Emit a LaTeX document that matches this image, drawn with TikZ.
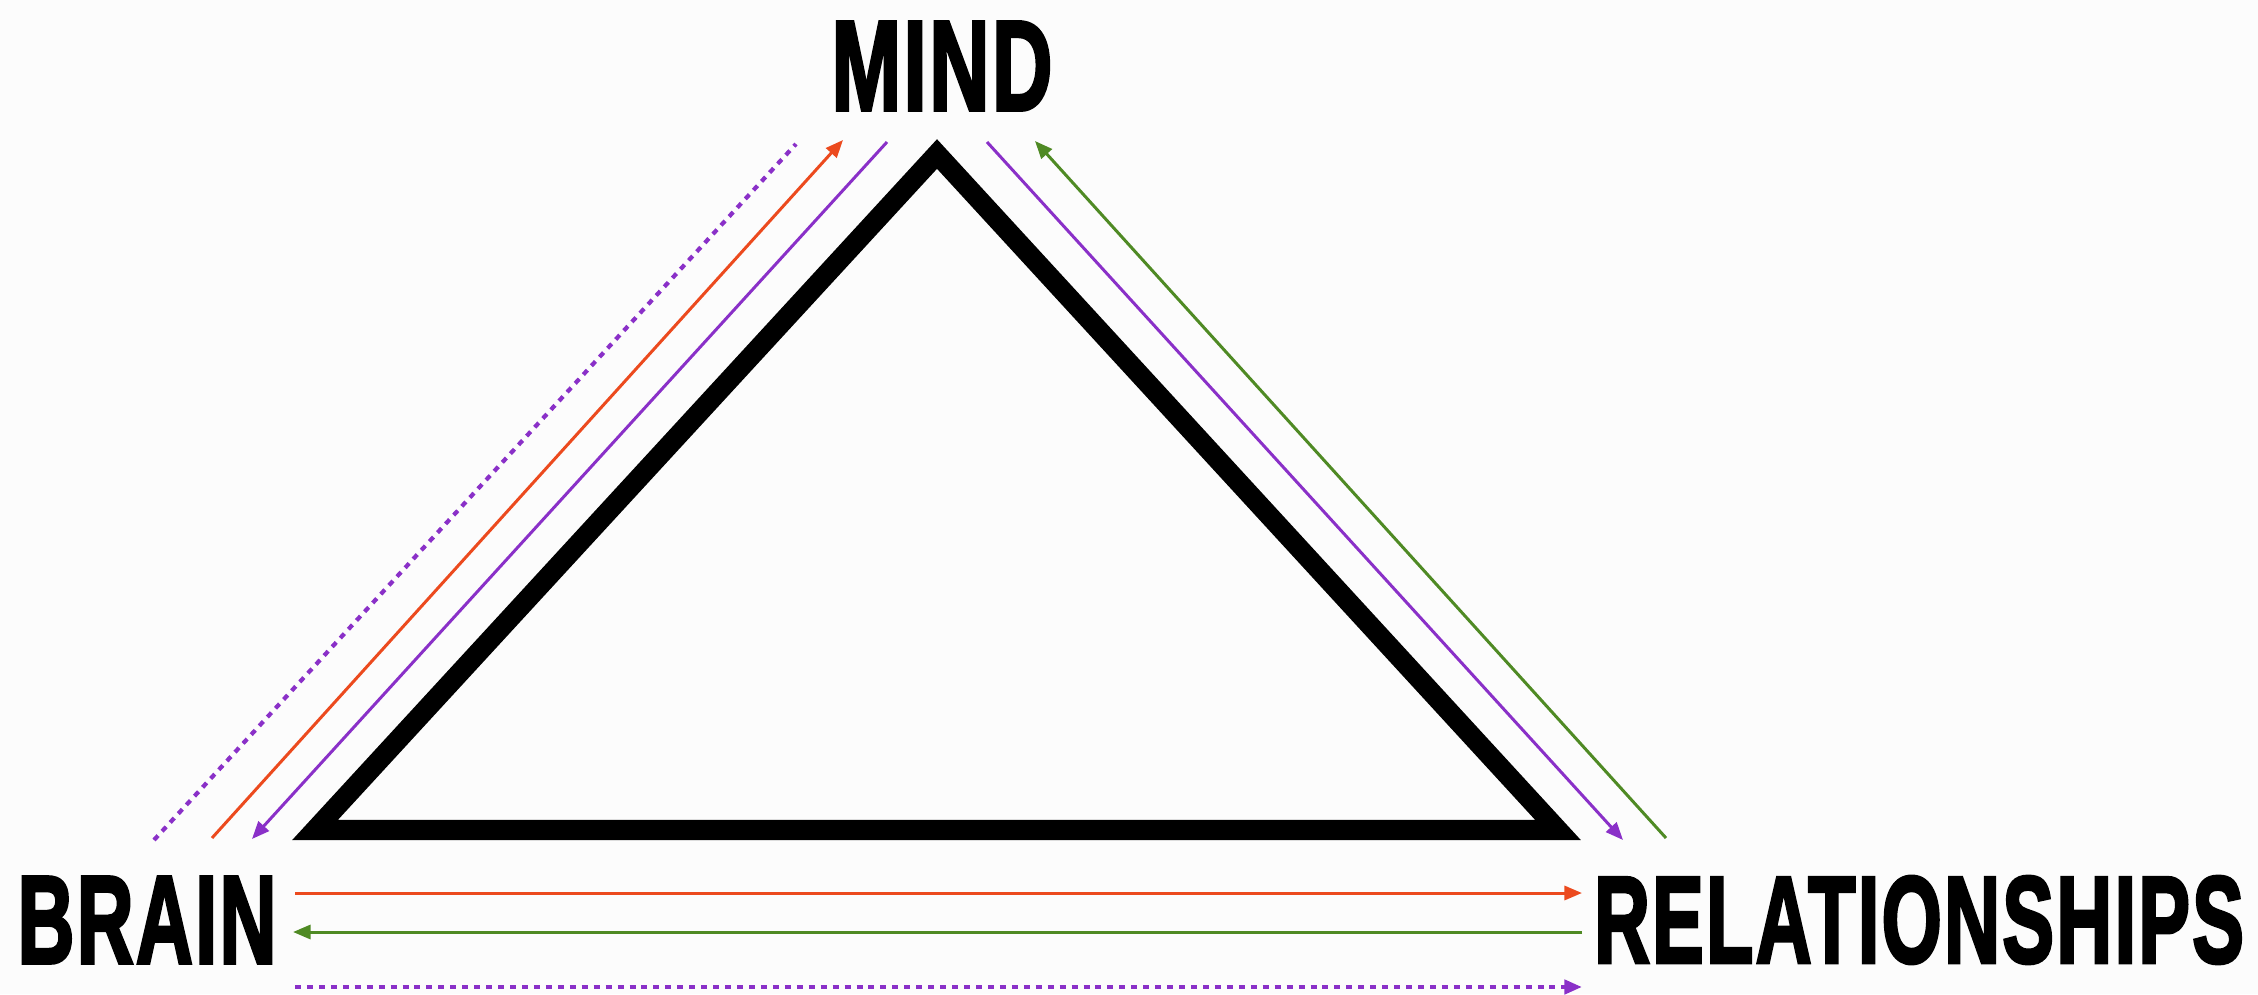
\documentclass[tikz,border=0pt]{standalone}
\usepackage{fontspec}
\usepackage{graphicx}
\newfontfamily\heavyfont{Liberation Sans Bold}[FakeBold=3, LetterSpace=3]
\usetikzlibrary{arrows.meta,positioning}
\definecolor{flowred}{HTML}{EC4A1E}
\definecolor{flowpurple}{HTML}{8A30C8}
\definecolor{flowgreen}{HTML}{4F8A24}

\begin{document}
\begin{tikzpicture}[
  x=0.02cm, y=-0.02cm,
  label/.style={inner sep=0pt, outer sep=0pt, font=\heavyfont},
  frame/.style={line width=11.4pt, line join=miter},
  flow/.style={line width=1.7pt, -{Triangle[length=10pt, width=8pt]}},
  dots/.style={line width=2.4pt, dash pattern=on 3.4pt off 3.4pt}
]
  \fill[white!99!black] (0,0) rectangle (2258,994);
  \useasboundingbox (0,0) rectangle (2258,994);

  % the three corners
  \node[label] (mind) at (942,66) {\resizebox{4.42cm}{1.76cm}{MIND}};
  \node[label] (brain) at (147,920) {\resizebox{5.18cm}{1.72cm}{BRAIN}};
  \node[label] (rel) at (1919,920) {\resizebox{13.0cm}{1.72cm}{RELATIONSHIPS}};

  % triangle
  \coordinate (top) at (937,154);
  \coordinate (bl) at (315,830);
  \coordinate (br) at (1558,830);
  \draw[frame] (top) -- (bl) -- (br) -- cycle;

  % left side
  \coordinate (lp1) at (154,840);  \coordinate (lp2) at (796,144);
  \coordinate (lr1) at (212,838);  \coordinate (lr2) at (843,140);
  \coordinate (lv1) at (887,142);  \coordinate (lv2) at (252,839);
  \draw[dots, flowpurple] (lp1) -- (lp2);
  \draw[flow, flowred] (lr1) -- (lr2);
  \draw[flow, flowpurple] (lv1) -- (lv2);

  % right side
  \coordinate (rv1) at (987,142);  \coordinate (rv2) at (1623,840);
  \coordinate (rg1) at (1666,838); \coordinate (rg2) at (1035,141);
  \draw[flow, flowpurple] (rv1) -- (rv2);
  \draw[flow, flowgreen] (rg1) -- (rg2);

  % bottom
  \coordinate (br1) at (295,893);  \coordinate (br2) at (1582,893);
  \coordinate (bg1) at (1582,932); \coordinate (bg2) at (293,932);
  \coordinate (bp1) at (295,987);  \coordinate (bp2) at (1582,987);
  \draw[flow, flowred] (br1) -- (br2);
  \draw[flow, flowgreen] (bg1) -- (bg2);
  \draw[flow, dots, flowpurple] (bp1) -- (bp2);
\end{tikzpicture}
\end{document}
